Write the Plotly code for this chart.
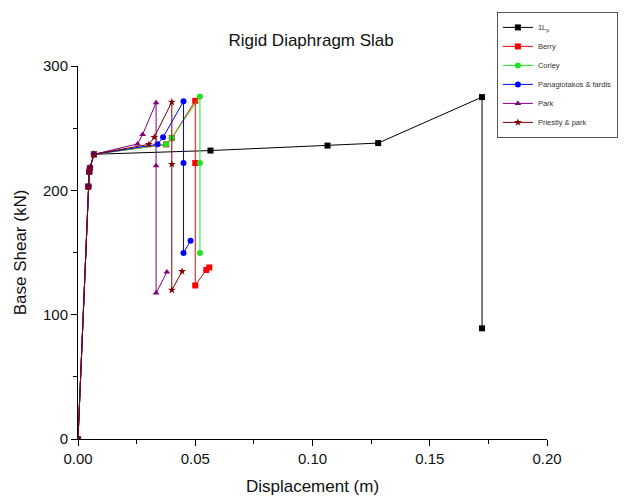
import plotly.graph_objects as go

# shared initial branch
base_x = [0.0, 0.0044, 0.0048, 0.0051, 0.0068]
base_y = [0.0, 203, 215, 218, 229]

lp_x = base_x + [0.0565, 0.1064, 0.128, 0.1723, 0.1723]
lp_y = base_y + [232, 236, 238, 275, 89]

berry_x = base_x + [0.0376, 0.0400, 0.0500, 0.0500, 0.0500, 0.0547, 0.0560]
berry_y = base_y + [237, 242, 272, 222, 123.5, 136, 138]

corley_x = base_x + [0.0376, 0.0400, 0.0520, 0.0520, 0.0520]
corley_y = base_y + [237, 242, 275.5, 222, 149.5]

pana_x = base_x + [0.0339, 0.0363, 0.0450, 0.0450, 0.0450, 0.0480]
pana_y = base_y + [237, 242.7, 271.6, 222, 149.6, 159.4]

park_x = base_x + [0.0254, 0.0276, 0.0333, 0.0333, 0.0333, 0.0379]
park_y = base_y + [237.3, 245, 270.5, 219.7, 117.4, 134.3]

pp_x = base_x + [0.0302, 0.0325, 0.0400, 0.0400, 0.0400, 0.0444]
pp_y = base_y + [237, 242.7, 271, 221, 119.8, 134.8]

series = [
    ("1L<sub>p</sub>", lp_x, lp_y, "#000000", "square"),
    ("Berry", berry_x, berry_y, "#ff0000", "square"),
    ("Corley", corley_x, corley_y, "#22e022", "circle"),
    ("Panagiotakos & fardis", pana_x, pana_y, "#0000ff", "circle"),
    ("Park", park_x, park_y, "#800080", "triangle-up"),
    ("Priestly & park", pp_x, pp_y, "#800000", "star"),
]

x_ticks = [0.0, 0.05, 0.10, 0.15, 0.20]
x_labels = ["0.00", "0.05", "0.10", "0.15", "0.20"]
y_ticks = [0, 100, 200, 300]

FONT = "Liberation Sans, Arial, sans-serif"

fig = go.Figure()
for name, xs, ys, col, sym in series:
    fig.add_trace(go.Scatter(
        x=xs, y=ys, name=name, mode="lines+markers",
        line=dict(color=col, width=1),
        marker=dict(color=col, symbol=sym, size=6),
    ))

fig.update_layout(
    width=629, height=496,
    margin=dict(l=78, r=82, t=66, b=57, autoexpand=False),
    paper_bgcolor="white", plot_bgcolor="white",
    font=dict(family=FONT, color="#111"),
    title=dict(text="Rigid Diaphragm Slab", x=0.497, xref="paper", y=0.919,
               yanchor="middle", font=dict(size=17, family=FONT, color="#111")),
    showlegend=True,
    legend=dict(xref="container", yref="container", x=0.790, y=0.976,
                xanchor="left", yanchor="top",
                bgcolor="white", bordercolor="#555", borderwidth=1,
                font=dict(size=7.5, family=FONT, color="#333"), itemwidth=30,
                entrywidth=98, tracegroupgap=0),
    xaxis=dict(range=[0, 0.2], tickvals=x_ticks, ticktext=x_labels,
               showline=True, linecolor="#000", linewidth=1, mirror=False,
               ticks="outside", ticklen=6, tickcolor="#000",
               minor=dict(tickvals=[0.025, 0.075, 0.125, 0.175], ticks="outside",
                          ticklen=4, tickcolor="#000"),
               showgrid=False, zeroline=False, automargin=False,
               tickfont=dict(size=15, family=FONT, color="#111"),
               title=dict(text="Displacement (m)", font=dict(size=17, family=FONT, color="#111"),
                          standoff=15)),
    yaxis=dict(range=[0, 300], tickvals=y_ticks,
               showline=True, linecolor="#000", linewidth=1, mirror=False,
               ticks="outside", ticklen=6, tickcolor="#000",
               minor=dict(tickvals=[50, 150, 250], ticks="outside",
                          ticklen=4, tickcolor="#000"),
               showgrid=False, zeroline=False, automargin=False,
               tickfont=dict(size=15, family=FONT, color="#111"),
               title=dict(text="Base Shear (kN)", font=dict(size=17, family=FONT, color="#111"),
                          standoff=12)),
)

fig.write_html("out.html", config={"displayModeBar": False},
               post_script="document.body.style.margin='0';")
